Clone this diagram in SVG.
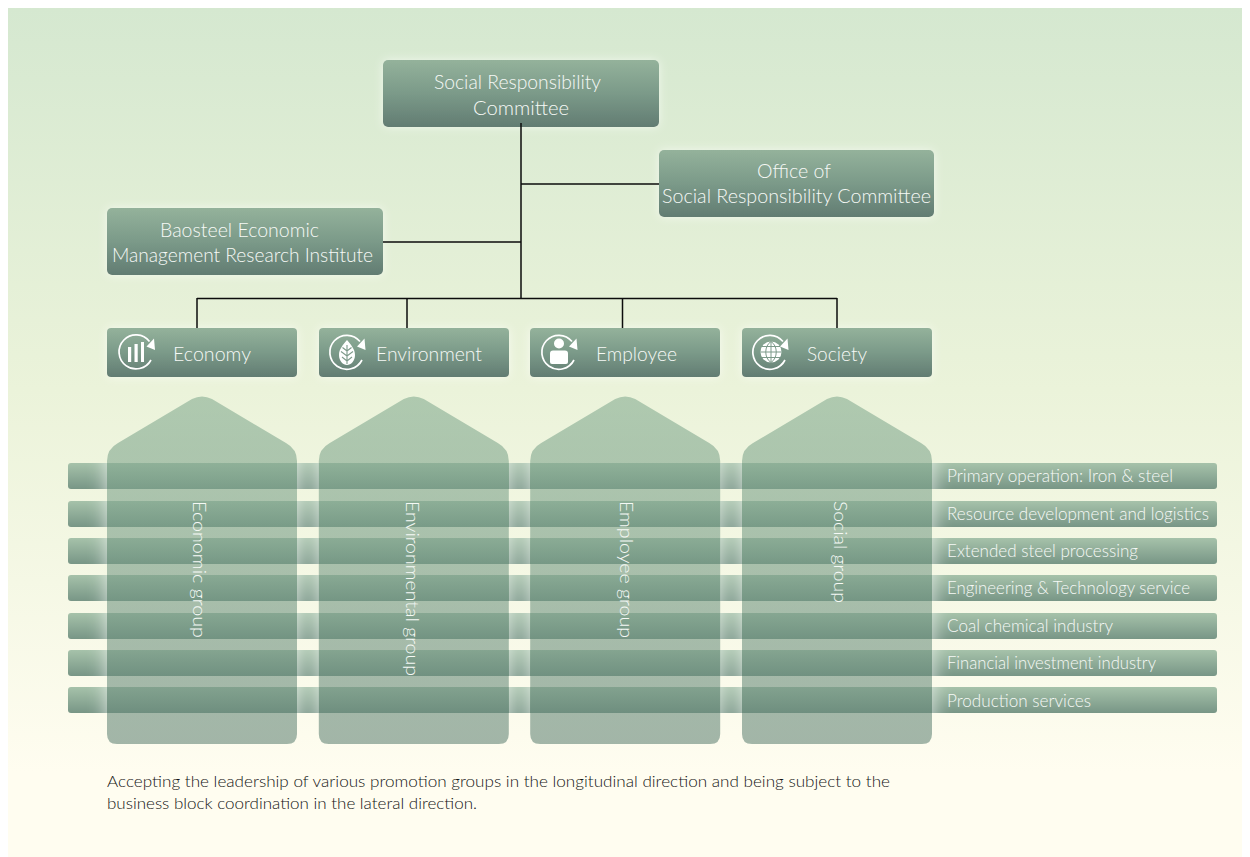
<svg xmlns="http://www.w3.org/2000/svg" width="1250" height="857" viewBox="0 0 1250 857">
<style>
text{font-family:"Lato","Open Sans","Liberation Sans",sans-serif;font-weight:300;fill:#f6f9f6}
.t{font-size:20.5px}
.b{font-size:17.5px}
.v{font-size:18px}
.f{font-size:16.5px;fill:#141414}
.box{fill:url(#boxG);filter:url(#glow)}
.bar{fill:url(#barG)}
.col{fill:url(#colG)}
.ln{stroke:#0c0c0c;stroke-width:1.5;fill:none}
.ic{stroke:#fff;stroke-width:1.7;fill:none}
.w{fill:#fff}
</style>
<defs>
<linearGradient id="bg" x1="0" y1="0" x2="0" y2="1"><stop offset="0" stop-color="#d5e8d0"/><stop offset=".45" stop-color="#ebf3da"/><stop offset=".9" stop-color="#fffdf0"/></linearGradient>
<linearGradient id="boxG" x1="0" y1="0" x2="0" y2="1"><stop offset="0" stop-color="#94b29b"/><stop offset=".5" stop-color="#7b9a89"/><stop offset="1" stop-color="#627c72"/></linearGradient>
<linearGradient id="barG" x1="0" y1="0" x2="0" y2="1"><stop offset="0" stop-color="#a6c2aa"/><stop offset="1" stop-color="#789686"/></linearGradient>
<linearGradient id="colG" gradientUnits="userSpaceOnUse" x1="0" y1="396" x2="0" y2="744"><stop offset="0" stop-color="#86ad92"/><stop offset="1" stop-color="#658678"/></linearGradient>
<filter id="glow" x="-15%" y="-40%" width="130%" height="180%"><feGaussianBlur in="SourceAlpha" stdDeviation="5" result="b"/><feFlood flood-color="#fff" flood-opacity=".6"/><feComposite in2="b" operator="in" result="g"/><feMerge><feMergeNode in="g"/><feMergeNode in="SourceGraphic"/></feMerge></filter>
<filter id="soft" x="-30%" y="-20%" width="160%" height="140%"><feGaussianBlur in="SourceAlpha" stdDeviation="10" result="b"/><feFlood flood-color="#fff"/><feComposite in2="b" operator="in" result="g"/><feComposite in="g" in2="SourceAlpha" operator="out"/></filter>
<path id="colShape" d="M107 461Q107 449 118 443L192 399Q202 394 212 399L286 443Q297 449 297 461V734Q297 744 287 744H117Q107 744 107 734Z"/>
<clipPath id="barsClip">
<rect x="68" y="463" width="1149" height="26"/><rect x="68" y="501" width="1149" height="26"/><rect x="68" y="538" width="1149" height="26"/><rect x="68" y="575" width="1149" height="26"/><rect x="68" y="613" width="1149" height="26"/><rect x="68" y="650" width="1149" height="26"/><rect x="68" y="687" width="1149" height="26"/>
</clipPath>
</defs>
<rect width="1250" height="857" fill="#fff"/>
<rect x="8" y="8" width="1234" height="849" fill="url(#bg)"/>

<g id="node-committee"><rect class="box" x="383" y="60" width="276" height="67" rx="5"/>
<text class="t" x="434" y="89" textLength="167" lengthAdjust="spacingAndGlyphs">Social Responsibility</text><text class="t" x="473" y="115" textLength="96" lengthAdjust="spacingAndGlyphs">Committee</text></g>
<g id="node-office"><rect class="box" x="659" y="150" width="275" height="67" rx="5"/>
<text class="t" x="757" y="178" textLength="74" lengthAdjust="spacingAndGlyphs">Office of</text><text class="t" x="662" y="203" textLength="269" lengthAdjust="spacingAndGlyphs">Social Responsibility Committee</text></g>
<g id="node-institute"><rect class="box" x="107" y="208" width="276" height="67" rx="5"/>
<text class="t" x="160" y="237" textLength="159" lengthAdjust="spacingAndGlyphs">Baosteel Economic</text><text class="t" x="112" y="262" textLength="261" lengthAdjust="spacingAndGlyphs">Management Research Institute</text></g>

<g id="node-economy"><rect class="box" x="107" y="328" width="190" height="49" rx="4"/>
<path class="ic" d="M149.500 341.500A17 17 0 1 0 151 360"/><path class="w" d="M154 338.500L155 350L146.500 346.500Z"/>
<rect class="w" x="128" y="347" width="3.200" height="15"/><rect class="w" x="134.500" y="344" width="3.200" height="18"/><rect class="w" x="141" y="342" width="3" height="20"/>
<text class="t" x="173" y="361" textLength="78" lengthAdjust="spacingAndGlyphs">Economy</text></g>
<g id="node-environment"><rect class="box" x="319" y="328" width="190" height="49" rx="4"/>
<path class="ic" d="M360 341.500A17 17 0 1 0 362 360"/><path class="w" d="M364.500 338.500L365.500 350L357 346.500Z"/>
<path class="w" d="M347 340C343 345 339 349 339 355C339 361 343 365 347 365C351 365 355 361 355 355C355 349 351 345 347 340Z"/>
<path d="M347 345V364M347 351L342.500 347.500M347 351L351.500 347.500M347 356L341 351.500M347 356L353 351.500M347 361L342 357M347 361L352 357" stroke="#7d9a8a" stroke-width="1.100" fill="none"/>
<text class="t" x="376" y="361" textLength="106" lengthAdjust="spacingAndGlyphs">Environment</text></g>
<g id="node-employee"><rect class="box" x="530" y="328" width="190" height="49" rx="4"/>
<path class="ic" d="M572 341.500A17 17 0 1 0 574 360"/><path class="w" d="M576.500 338.500L577.500 350L569 346.500Z"/>
<circle class="w" cx="559" cy="343.500" r="5"/><path class="w" d="M553 350.500H565Q568 350.500 568 353.500V362Q568 364 566 364H552Q550 364 550 362V353.500Q550 350.500 553 350.500Z"/>
<text class="t" x="596" y="361" textLength="81" lengthAdjust="spacingAndGlyphs">Employee</text></g>
<g id="node-society"><rect class="box" x="742" y="328" width="190" height="49" rx="4"/>
<path class="ic" d="M783 341.500A17 17 0 1 0 785 360"/><path class="w" d="M787.500 338.500L788.500 350L780 346.500Z"/>
<circle class="w" cx="771" cy="352" r="10.500"/>
<path d="M771 341.500V362.500M760.500 352H781.500M762 346.500H780M762 357.500H780M771 341.500C764 346 764 358 771 362.500M771 341.500C778 346 778 358 771 362.500" stroke="#7d9a8a" stroke-width="1" fill="none"/>
<text class="t" x="807" y="361" textLength="60" lengthAdjust="spacingAndGlyphs">Society</text></g>

<g id="connectors">
<path class="ln" d="M521 123V298M521 184H659M383 242H521M197 298.500H837M197 298V328M407 298V328M622.500 298V328M837 298V328"/>
</g>

<g id="bars">
<rect class="bar" x="68" y="463" width="1149" height="26" rx="3"/><rect class="bar" x="68" y="501" width="1149" height="26" rx="3"/><rect class="bar" x="68" y="538" width="1149" height="26" rx="3"/><rect class="bar" x="68" y="575" width="1149" height="26" rx="3"/><rect class="bar" x="68" y="613" width="1149" height="26" rx="3"/><rect class="bar" x="68" y="650" width="1149" height="26" rx="3"/><rect class="bar" x="68" y="687" width="1149" height="26" rx="3"/>
</g>
<g id="column-glow" clip-path="url(#barsClip)"><g opacity=".75">
<rect filter="url(#soft)" x="107" y="300" width="190" height="560"/><rect filter="url(#soft)" x="319" y="300" width="190" height="560"/><rect filter="url(#soft)" x="530" y="300" width="190" height="560"/><rect filter="url(#soft)" x="742" y="300" width="190" height="560"/></g></g>

<g id="column-economic"><use href="#colShape" class="col" opacity=".6"/><text class="v" transform="translate(192.500 501) rotate(90)" textLength="137" lengthAdjust="spacingAndGlyphs">Economic group</text></g>
<g id="column-environmental"><use href="#colShape" x="211.800" class="col" opacity=".6"/><text class="v" transform="translate(405.500 501) rotate(90)" textLength="175" lengthAdjust="spacingAndGlyphs">Environmental group</text></g>
<g id="column-employee"><use href="#colShape" x="423.200" class="col" opacity=".6"/><text class="v" transform="translate(619.500 501) rotate(90)" textLength="137" lengthAdjust="spacingAndGlyphs">Employee group</text></g>
<g id="column-social"><use href="#colShape" x="635" class="col" opacity=".6"/><text class="v" transform="translate(833.500 501) rotate(90)" textLength="102" lengthAdjust="spacingAndGlyphs">Social group</text></g>

<g id="bar-labels">
<text class="b" x="947" y="482" textLength="226" lengthAdjust="spacingAndGlyphs">Primary operation: Iron &amp; steel</text>
<text class="b" x="947" y="520" textLength="262" lengthAdjust="spacingAndGlyphs">Resource development and logistics</text>
<text class="b" x="947" y="557" textLength="191" lengthAdjust="spacingAndGlyphs">Extended steel processing</text>
<text class="b" x="947" y="594" textLength="243" lengthAdjust="spacingAndGlyphs">Engineering &amp; Technology service</text>
<text class="b" x="947" y="632" textLength="166" lengthAdjust="spacingAndGlyphs">Coal chemical industry</text>
<text class="b" x="947" y="669" textLength="209" lengthAdjust="spacingAndGlyphs">Financial investment industry</text>
<text class="b" x="947" y="707" textLength="144" lengthAdjust="spacingAndGlyphs">Production services</text>
</g>
<g id="note">
<text class="f" x="107" y="787" textLength="783" lengthAdjust="spacingAndGlyphs">Accepting the leadership of various promotion groups in the longitudinal direction and being subject to the</text>
<text class="f" x="107" y="809" textLength="370" lengthAdjust="spacingAndGlyphs">business block coordination in the lateral direction.</text>
</g>
</svg>
